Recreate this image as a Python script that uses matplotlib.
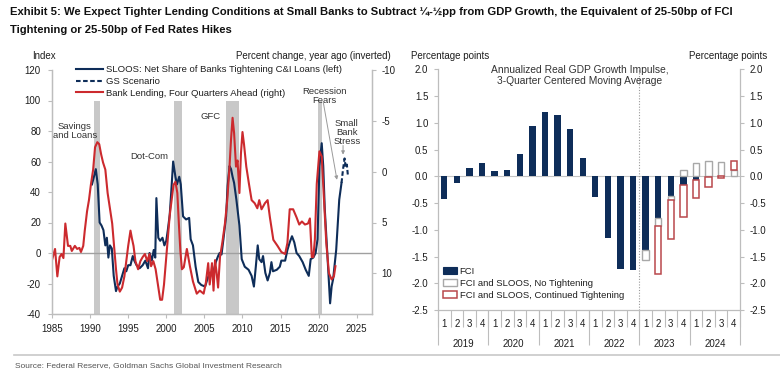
import numpy as np
import matplotlib
matplotlib.use("Agg")
import matplotlib.pyplot as plt
from matplotlib import font_manager
from matplotlib.patches import Patch
from matplotlib.lines import Line2D

# ---------------- data ----------------
sloos_years = [1990.25, 1990.5, 1990.75, 1991.0, 1991.25, 1991.5, 1991.75, 1992.0, 1992.2, 1992.4,
               1992.6, 1992.85, 1993.1, 1993.4, 1993.6, 1993.9, 1994.2, 1994.5, 1994.75, 1995.0,
               1995.3, 1995.6, 1995.8, 1996.1, 1996.5, 1996.9, 1997.25, 1997.6, 1997.8, 1998.1,
               1998.35, 1998.55, 1998.7, 1998.95, 1999.2, 1999.5, 1999.75, 2000.0, 2000.2, 2000.45,
               2000.65, 2000.9, 2001.2, 2001.4, 2001.7, 2001.9, 2002.2, 2002.6, 2003.0, 2003.2,
               2003.5, 2003.85, 2004.2, 2004.6, 2005.1, 2005.4, 2005.7, 2006.1, 2006.5, 2006.8,
               2007.0, 2007.25, 2007.5, 2007.85, 2008.05, 2008.3, 2008.5, 2008.7, 2008.9, 2009.2,
               2009.6, 2009.9, 2010.3, 2010.8, 2011.2, 2011.5, 2011.75, 2012.0, 2012.2, 2012.5,
               2012.7, 2013.0, 2013.3, 2013.6, 2013.8, 2014.0, 2014.5, 2014.9, 2015.1, 2015.6,
               2015.9, 2016.2, 2016.5, 2016.8, 2017.1, 2017.45, 2017.9, 2018.3, 2018.7, 2018.95,
               2019.3, 2019.6, 2019.85, 2020.1, 2020.4, 2020.6, 2020.8, 2021.05, 2021.3, 2021.5,
               2021.7, 2021.9, 2022.3, 2022.7, 2023.0]
sloos_vals = [45, 50, 55, 45, 20, 18, 15, 5, 10, -3,
              5, 3, -15, -25, -22, -20, -15, -10, -12, -8,
              -8, -2, -5, -8, -10, -8, -5, -10, 0, -5,
              2, -3, 36, 10, 8, 10, 5, 8, 15, 25,
              40, 60, 50, 45, 50, 45, 24, 22, 23, 9,
              5, -9, -19, -21, -22, -17, -13, -14, -6, -2,
              0, -1, 9, 24, 44, 57, 55, 50, 46, 35,
              18, -4, -9, -11, -15, -22, -9, 5, -4, -6,
              -2, -13, -18, -13, -6, -12, -11, -9, -5, -5,
              2, 7, 11, 7, 0, -2, -6, -11, -15, -4,
              -3, 0, 9, 57, 72, 57, 29, 7, -15, -33,
              -22, -17, 2, 35, 46]

gs_years = [2023.0, 2023.2, 2023.4, 2023.55, 2023.7, 2023.85]
gs_vals = [46, 55, 62, 56, 58, 50]

lending_years = [1985.0, 1985.4, 1985.7, 1986.0, 1986.25, 1986.5, 1986.75, 1987.1, 1987.4, 1987.6,
                 1988.0, 1988.3, 1988.6, 1988.8, 1989.1, 1989.3, 1989.6, 1989.85, 1990.1, 1990.4,
                 1990.65, 1990.95, 1991.2, 1991.45, 1991.7, 1992.0, 1992.3, 1992.6, 1992.9, 1993.1,
                 1993.4, 1993.6, 1993.9, 1994.2, 1994.5, 1994.75, 1995.0, 1995.3, 1995.5, 1995.7,
                 1995.95, 1996.3, 1996.6, 1996.9, 1997.2, 1997.5, 1997.8, 1998.0, 1998.3, 1998.6,
                 1998.9, 1999.2, 1999.45, 1999.7, 1999.95, 2000.2, 2000.45, 2000.7, 2000.95, 2001.2,
                 2001.45, 2001.65, 2001.85, 2002.05, 2002.3, 2002.7, 2003.1, 2003.5, 2004.0, 2004.4,
                 2004.9, 2005.2, 2005.5, 2005.7, 2006.0, 2006.2, 2006.4, 2006.6, 2006.8, 2007.05,
                 2007.35, 2007.7, 2008.0, 2008.3, 2008.5, 2008.7, 2008.9, 2009.15, 2009.35, 2009.6,
                 2009.8, 2010.0, 2010.2, 2010.5, 2010.85, 2011.2, 2011.6, 2011.95, 2012.2, 2012.5,
                 2012.95, 2013.3, 2013.6, 2014.05, 2014.6, 2015.1, 2015.6, 2015.9, 2016.2, 2016.65,
                 2017.1, 2017.45, 2017.8, 2018.2, 2018.6, 2018.85, 2019.1, 2019.3, 2019.5, 2019.75,
                 2020.1, 2020.4, 2020.7, 2021.0, 2021.35, 2021.7, 2022.0, 2022.2]
# percent change, year ago (plotted on inverted right axis)
lending_vals = [8.7, 7.6, 10.3, 8.4, 8.1, 8.5, 5.1, 7.3, 7.3, 7.8,
                7.3, 7.6, 7.5, 7.9, 7.3, 5.8, 3.9, 2.8, 1.3, -0.2,
                -2.4, -2.9, -2.7, -1.7, -0.9, -0.2, 2.1, 3.6, 5.1, 6.9,
                9.6, 11.1, 11.8, 11.4, 10.3, 8.8, 7.3, 5.8, 6.6, 7.3,
                8.8, 9.6, 8.8, 8.4, 8.1, 8.8, 8.1, 9.3, 8.8, 9.6,
                11.1, 12.6, 12.6, 11.1, 8.8, 6.6, 4.3, 2.8, 1.3, 1.0,
                2.1, 5.1, 7.8, 9.6, 9.4, 7.6, 9.3, 10.8, 12.0, 11.7,
                12.0, 10.9, 9.0, 11.1, 9.0, 11.7, 8.7, 9.9, 11.4, 8.4,
                7.0, 5.1, 2.8, -0.5, -3.2, -5.3, -3.8, -0.5, -1.1, 2.1,
                -1.8, -3.9, -2.7, -0.5, 1.2, 2.8, 3.1, 3.6, 2.8, 3.7,
                3.1, 2.8, 4.5, 6.7, 7.3, 7.9, 8.1, 7.0, 3.7, 3.7,
                4.5, 5.2, 4.9, 5.2, 5.1, 4.6, 8.4, 8.4, 6.7, 1.2,
                -2.0, -1.5, 2.8, 7.0, 10.0, 10.6, 10.3, 9.3]

recession_starts = [1990.5, 2001.0, 2007.85, 2019.85]
recession_ends = [1991.25, 2002.0, 2009.5, 2020.5]

years = ["2019", "2020", "2021", "2022", "2023", "2024"]
quarters = ["1", "2", "3", "4"]
fci = [-0.42, -0.13, 0.15, 0.25, 0.10, 0.12, 0.42, 0.94, 1.20, 1.15, 0.88, 0.35,
       -0.39, -1.16, -1.73, -1.76, -1.37, -0.78, -0.37, -0.16, -0.07, -0.02, 0.0, 0.0]
no_tightening = [0.0] * 16 + [-0.19, -0.15, -0.07, 0.11, 0.24, 0.28, 0.26, 0.11]
continued_tightening = [0.0] * 16 + [0.0, -0.90, -0.73, -0.60, -0.33, -0.18, -0.03, 0.17]

# ---------------- style ----------------
names = {f.name for f in font_manager.fontManager.ttflist}
body = "Liberation Sans" if "Liberation Sans" in names else "DejaVu Sans"
narrow = "Liberation Sans Narrow" if "Liberation Sans Narrow" in names else None
plt.rcParams["font.family"] = [body, "DejaVu Sans"]
plt.rcParams["axes.unicode_minus"] = False

NAVY = "#0e2d59"
RED = "#cc2a2e"
BOXRED = "#b9484c"
BOXGRAY = "#a8a8a8"
BAND = "#c8c8c8"
SPINE = "#bdbdbd"
TXT = "#1e1e1e"
FS = 7.0
LFS = 6.8

fig = plt.figure(figsize=(7.8, 3.78), dpi=100)
W, H = 780.0, 378.0

def fx(px):
    return px / W

def fy(py):
    return 1 - py / H

# title
if narrow:
    tkw = dict(family=[narrow, "DejaVu Sans"], fontsize=9.95, fontweight="bold")
else:
    tkw = dict(family=[body, "DejaVu Sans"], fontsize=8.1, fontweight="bold")
fig.text(fx(10), fy(12), "Exhibit 5: We Expect Tighter Lending Conditions at Small Banks to Subtract ¼-½pp from GDP Growth, the Equivalent of 25-50bp of FCI",
         ha="left", va="center", color="#111", **tkw)
fig.text(fx(10), fy(30), "Tightening or 25-50bp of Fed Rates Hikes",
         ha="left", va="center", color="#111", **tkw)

# ---------------- left chart ----------------
ax1 = fig.add_axes([fx(52), fy(314), fx(372) - fx(52), fy(70) - fy(314)])
ax1.set_xlim(1985, 2027)
ax1.set_ylim(-40, 120)
for a, b in zip(recession_starts, recession_ends):
    ax1.axvspan(a, b, ymin=0, ymax=(100 + 40) / 160, color=BAND, lw=0, zorder=0)
ax1.axhline(0, color="#a0a0a0", lw=1.0, zorder=1)
ax1.plot(sloos_years, sloos_vals, color=NAVY, lw=1.5, zorder=3)
ax1.plot(gs_years, gs_vals, color=NAVY, lw=1.5, dashes=(2.2, 1.2), zorder=3)

ax1r = ax1.twinx()
ax1r.set_ylim(14, -10)
ax1r.plot(lending_years, lending_vals, color=RED, lw=1.5, zorder=2)

ax1.set_xticks(np.arange(1985, 2026, 5))
ax1.set_yticks(np.arange(-40, 121, 20))
ax1r.set_yticks([-10, -5, 0, 5, 10])
for a in (ax1, ax1r):
    a.spines["top"].set_visible(False)
    for s in ("left", "right", "bottom"):
        a.spines[s].set_color(SPINE)
        a.spines[s].set_linewidth(0.9)
    a.tick_params(colors=SPINE, labelcolor=TXT, labelsize=FS, length=3, width=0.8)
ax1.tick_params(axis="y", pad=5)
ax1.tick_params(axis="x", pad=4)
ax1r.tick_params(axis="y", pad=4)

fig.text(fx(32), fy(56), "Index", ha="left", va="center", fontsize=FS, color=TXT)
fig.text(fx(391), fy(56), "Percent change, year ago (inverted)", ha="right", va="center", fontsize=FS, color=TXT)

handles = [Line2D([], [], color=NAVY, lw=1.5),
           Line2D([], [], color=NAVY, lw=1.5, dashes=(2.2, 1.2)),
           Line2D([], [], color=RED, lw=1.5)]
labels = ["SLOOS: Net Share of Banks Tightening C&I Loans (left)", "GS Scenario",
          "Bank Lending, Four Quarters Ahead (right)"]
fig.legend(handles, labels, loc="upper left", bbox_to_anchor=(fx(76), fy(65)),
           frameon=False, fontsize=LFS, handlelength=2.9, handletextpad=0.25,
           labelspacing=0.3, borderpad=0, borderaxespad=0, labelcolor=TXT)

ann = dict(fontsize=LFS, color="#333", ha="center", va="center", linespacing=1.05)
ax1.text(1988.0, 80.0, "Savings\nand Loans", **ann)
ax1.text(1997.8, 63.5, "Dot-Com", **ann)
ax1.text(2005.8, 89.5, "GFC", **ann)
ax1.text(2020.8, 103.0, "Recession\nFears", **ann)
ax1.text(2023.7, 79.0, "Small\nBank\nStress", **ann)
ax1.annotate("", xy=(2022.4, 48), xytext=(2020.6, 99),
             arrowprops=dict(arrowstyle="-|>", color="#9a9a9a", lw=0.7,
                             mutation_scale=5, shrinkA=0, shrinkB=0))
ax1.annotate("", xy=(2023.2, 64.5), xytext=(2023.2, 70.5),
             arrowprops=dict(arrowstyle="-|>", color="#9a9a9a", lw=0.7,
                             mutation_scale=5, shrinkA=0, shrinkB=0))

# ---------------- right chart ----------------
ax2 = fig.add_axes([fx(438), fy(310), fx(740) - fx(438), fy(69.3) - fy(310)])
n = len(fci)
xpos = np.arange(n) + 0.5
ax2.set_xlim(0, n)
ax2.set_ylim(-2.5, 2.0)

pos_b = np.zeros(n)
neg_b = np.zeros(n)
series = [(fci, dict(color=NAVY, lw=0)),
          (no_tightening, dict(facecolor="white", edgecolor=BOXGRAY, lw=1.0)),
          (continued_tightening, dict(facecolor="white", edgecolor=BOXRED, lw=1.1))]
for vals, style in series:
    v = np.array(vals, dtype=float)
    bottoms = np.where(v >= 0, pos_b, neg_b)
    mask = v != 0
    ax2.bar(xpos[mask], v[mask], bottom=bottoms[mask], width=0.5, zorder=3, **style)
    pos_b = pos_b + np.where(v > 0, v, 0)
    neg_b = neg_b + np.where(v < 0, v, 0)

ax2.axhline(0, color="#c4c4c4", lw=0.8, zorder=1)
ax2.axvline(16, color="#9a9a9a", lw=0.8, ls=(0, (1, 1.5)), zorder=1)

ax2.set_yticks(np.arange(-2.5, 2.01, 0.5))
ax2.yaxis.set_major_formatter(matplotlib.ticker.FormatStrFormatter("%.1f"))
ax2.tick_params(axis="y", which="both", left=True, right=True, labelleft=True, labelright=True,
                colors=SPINE, labelcolor=TXT, labelsize=FS, length=3, width=0.8, pad=4)

ax2.set_xticks(xpos)
ax2.set_xticklabels(quarters * len(years))
ax2.tick_params(axis="x", which="major", length=0, pad=6.5, labelsize=FS, labelcolor=TXT)
ax2.set_xticks(np.arange(0, n + 1), minor=True)
ax2.tick_params(axis="x", which="minor", length=12.5, width=0.8, color=SPINE)

sec = ax2.secondary_xaxis("bottom")
sec.set_xticks(np.arange(len(years)) * 4 + 2)
sec.set_xticklabels(years)
sec.tick_params(axis="x", which="major", length=0, pad=21, labelsize=FS, labelcolor=TXT)
sec.set_xticks(np.arange(0, n + 1, 4), minor=True)
sec.tick_params(axis="x", which="minor", length=25.5, width=0.8, color=SPINE)
sec.spines["bottom"].set_visible(False)

ax2.spines["top"].set_visible(False)
for s in ("left", "right", "bottom"):
    ax2.spines[s].set_color(SPINE)
    ax2.spines[s].set_linewidth(0.9)

fig.text(fx(411), fy(56), "Percentage points", ha="left", va="center", fontsize=FS, color=TXT)
fig.text(fx(767), fy(56), "Percentage points", ha="right", va="center", fontsize=FS, color=TXT)
fig.text(fx(580), fy(75.5), "Annualized Real GDP Growth Impulse,\n3-Quarter Centered Moving Average",
         ha="center", va="center", fontsize=7.4, color="#333", linespacing=1.1)

h2 = [Patch(facecolor=NAVY, edgecolor=NAVY, lw=0.8),
      Patch(facecolor="white", edgecolor=BOXGRAY, lw=1.0),
      Patch(facecolor="white", edgecolor=BOXRED, lw=1.1)]
l2 = ["FCI", "FCI and SLOOS, No Tightening", "FCI and SLOOS, Continued Tightening"]
fig.legend(h2, l2, loc="upper left", bbox_to_anchor=(fx(443), fy(267)),
           frameon=False, fontsize=LFS, handlelength=1.5, handleheight=0.75,
           handletextpad=0.25, labelspacing=0.3, borderpad=0, borderaxespad=0, labelcolor=TXT)

# ---------------- footer ----------------
fig.add_artist(Line2D([fx(14), 1.0], [fy(355), fy(355)], color="#c8c8c8", lw=1.2))
fig.text(fx(15), fy(366), "Source: Federal Reserve, Goldman Sachs Global Investment Research",
         ha="left", va="center", fontsize=6.0, color="#555")

fig.savefig("out.png", dpi=100)
